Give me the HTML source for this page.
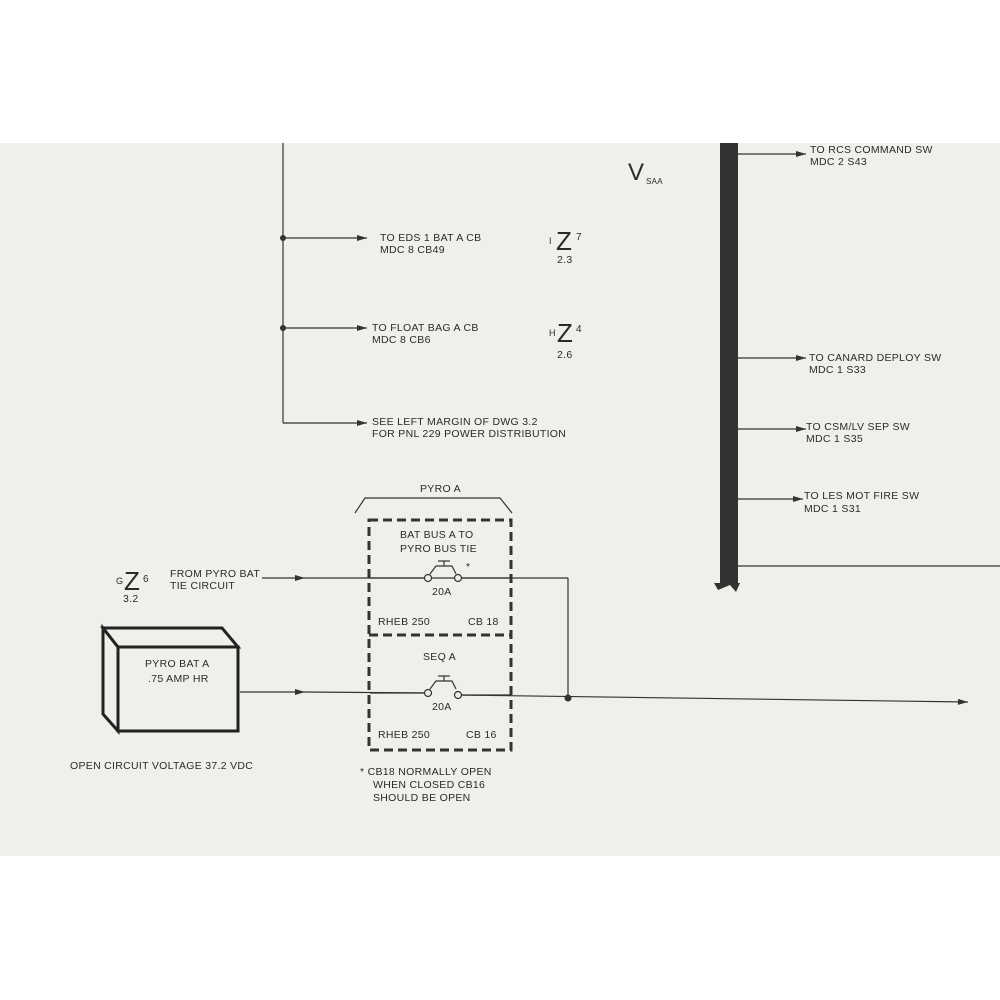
<!DOCTYPE html>
<html><head><style>
body{margin:0;background:#fff;}
svg{display:block}
text{font-family:"Liberation Sans",sans-serif;font-size:10.5px;fill:#2a2a2a;letter-spacing:0.3px}
</style></head><body>
<svg width="1000" height="1000" viewBox="0 0 1000 1000" xmlns="http://www.w3.org/2000/svg">
<defs><marker id="a" viewBox="0 0 10 6" refX="10" refY="3" markerWidth="14" markerHeight="6" markerUnits="userSpaceOnUse" orient="auto"><path d="M0,0L10,3L0,6z" fill="#333"/></marker></defs>
<rect x="0" y="143" width="1000" height="713" fill="#efefeb"/>
<g stroke="#333" stroke-width="1.2" fill="none">
<line x1="283" y1="143" x2="283" y2="423"/>
<line x1="283" y1="238" x2="367" y2="238" marker-end="url(#a)"/>
<line x1="283" y1="328" x2="367" y2="328" marker-end="url(#a)"/>
<line x1="283" y1="423" x2="367" y2="423" marker-end="url(#a)"/>
<line x1="738" y1="154" x2="806" y2="154" marker-end="url(#a)"/>
<line x1="738" y1="358" x2="806" y2="358" marker-end="url(#a)"/>
<line x1="738" y1="429" x2="806" y2="429" marker-end="url(#a)"/>
<line x1="738" y1="499" x2="803" y2="499" marker-end="url(#a)"/>
<line x1="738" y1="566" x2="1000" y2="566"/>
<line x1="262" y1="578" x2="305" y2="578" marker-end="url(#a)"/>
<line x1="305" y1="578" x2="568" y2="578"/>
<line x1="568" y1="578" x2="568" y2="698"/>
<line x1="240" y1="692" x2="305" y2="692" marker-end="url(#a)"/>
<line x1="305" y1="692" x2="432" y2="693"/>
<line x1="458" y1="695" x2="968" y2="702" marker-end="url(#a)"/>
<polyline points="355,513 365,498 500,498 512,513"/>
</g>
<rect x="720" y="143" width="18" height="440" fill="#333"/>
<path d="M714,583 L740,583 L736,592 L730,585 L718,590z" fill="#333"/>
<g fill="#333"><circle cx="283" cy="238" r="3"/><circle cx="283" cy="328" r="3"/><circle cx="568" cy="698" r="3.5"/></g>
<g stroke="#333" stroke-width="3" stroke-dasharray="9,5" fill="none">
<rect x="369" y="520" width="142" height="230"/>
<line x1="369" y1="635" x2="511" y2="635"/>
</g>
<!-- switches -->
<g stroke="#333" stroke-width="1.2" fill="#efefeb">
<line x1="370" y1="578" x2="425" y2="578"/><line x1="462" y1="578" x2="511" y2="578"/>
<circle cx="428" cy="578" r="3.5"/><circle cx="458" cy="578" r="3.5"/>
<polyline points="430,574 436,566 452,566 456,574" fill="none"/><line x1="444" y1="566" x2="444" y2="561"/><line x1="438" y1="561" x2="450" y2="561"/>
<line x1="370" y1="693" x2="425" y2="693"/><line x1="462" y1="695" x2="511" y2="695"/>
<circle cx="428" cy="693" r="3.5"/><circle cx="458" cy="695" r="3.5"/>
<polyline points="430,689 436,681 452,681 456,689" fill="none"/><line x1="444" y1="681" x2="444" y2="676"/><line x1="438" y1="676" x2="450" y2="676"/>
</g>
<!-- battery -->
<g stroke="#222" stroke-width="3" fill="#efefeb" stroke-linejoin="miter">
<polygon points="103,628 118,647 118,731 103,714"/>
<polygon points="103,628 222,628 238,647 118,647"/>
<rect x="118" y="647" width="120" height="84"/>
</g>
<text x="145" y="667">PYRO BAT  A</text>
<text x="148" y="682">.75 AMP HR</text>
<text x="70" y="769">OPEN CIRCUIT VOLTAGE 37.2 VDC</text>
<text x="380" y="241">TO EDS 1 BAT A CB</text><text x="380" y="253">MDC 8 CB49</text>
<text x="372" y="331">TO FLOAT BAG A CB</text><text x="372" y="343">MDC 8 CB6</text>
<text x="372" y="425">SEE LEFT MARGIN OF DWG 3.2</text><text x="372" y="437">FOR PNL 229 POWER DISTRIBUTION</text>
<text x="810" y="153">TO RCS COMMAND SW</text><text x="810" y="165">MDC 2 S43</text>
<text x="809" y="361">TO CANARD DEPLOY SW</text><text x="809" y="373">MDC 1 S33</text>
<text x="806" y="430">TO CSM/LV SEP SW</text><text x="806" y="442">MDC 1 S35</text>
<text x="804" y="499">TO LES MOT FIRE SW</text><text x="804" y="512">MDC 1 S31</text>
<text x="420" y="492">PYRO A</text>
<text x="400" y="538">BAT BUS A TO</text><text x="400" y="552">PYRO BUS TIE</text>
<text x="466" y="570">*</text>
<text x="432" y="595">20A</text><text x="432" y="710">20A</text>
<text x="378" y="625">RHEB 250</text><text x="468" y="625">CB 18</text>
<text x="378" y="738">RHEB 250</text><text x="466" y="738">CB 16</text>
<text x="423" y="660">SEQ A</text>
<text x="360" y="775">* CB18 NORMALLY OPEN</text><text x="373" y="788">WHEN CLOSED CB16</text><text x="373" y="801">SHOULD BE OPEN</text>
<text x="170" y="577">FROM PYRO BAT</text><text x="170" y="589">TIE CIRCUIT</text>
<text x="116" y="584" style="font-size:9px">G</text><text x="124" y="590" style="font-size:26px;font-weight:normal">Z</text><text x="143" y="582" style="font-size:10px">6</text><text x="123" y="602">3.2</text>
<text x="549" y="244" style="font-size:9px">I</text><text x="556" y="250" style="font-size:26px">Z</text><text x="576" y="240" style="font-size:10px">7</text><text x="557" y="263">2.3</text>
<text x="549" y="336" style="font-size:9px">H</text><text x="557" y="342" style="font-size:26px">Z</text><text x="576" y="332" style="font-size:10px">4</text><text x="557" y="358">2.6</text>
<text x="628" y="180" style="font-size:24px">V</text><text x="646" y="184" style="font-size:8px">SAA</text>
</svg>
</body></html>
